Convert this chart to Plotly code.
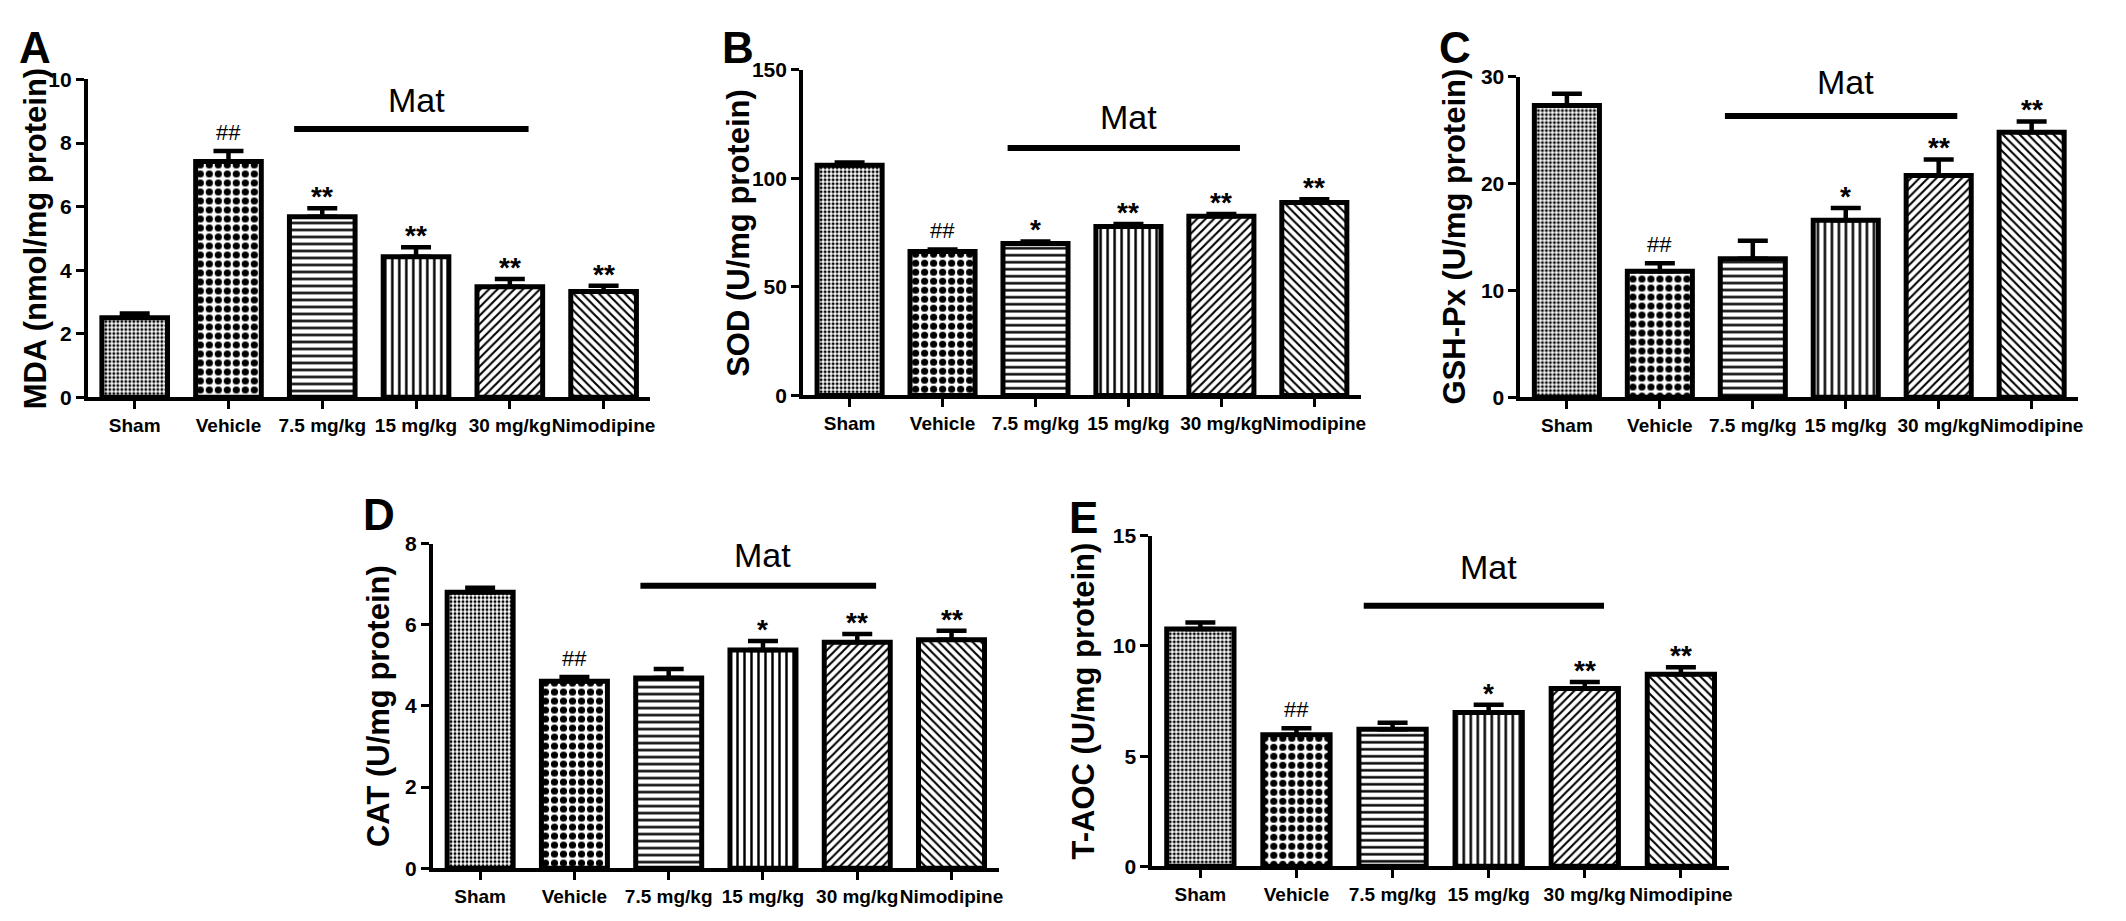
import plotly.graph_objects as go

# groups on the x axis (same for every panel)
groups = ["Sham", "Vehicle", "7.5 mg/kg", "15 mg/kg", "30 mg/kg", "Nimodipine"]
x_pos = [0, 1, 2, 3, 4, 5]

# A - MDA
mda = [2.5, 7.42, 5.68, 4.42, 3.48, 3.33]
mda_err = [0.14, 0.33, 0.27, 0.30, 0.24, 0.18]
mda_marks = ["", "##", "**", "**", "**", "**"]

# B - SOD
sod = [106.0, 66.3, 70.0, 77.8, 82.5, 88.8]
sod_err = [1.3, 0.9, 0.9, 1.2, 1.0, 1.5]
sod_marks = ["", "##", "*", "**", "**", "**"]

# C - GSH-Px
gsh = [27.3, 11.8, 12.95, 16.55, 20.75, 24.8]
gsh_err = [1.1, 0.75, 1.7, 1.15, 1.5, 1.0]
gsh_marks = ["", "##", "", "*", "**", "**"]

# D - CAT
cat = [6.8, 4.61, 4.69, 5.38, 5.57, 5.63]
cat_err = [0.11, 0.10, 0.22, 0.22, 0.20, 0.22]
cat_marks = ["", "##", "", "*", "**", "**"]

# E - T-AOC
taoc = [10.77, 5.97, 6.22, 6.98, 8.07, 8.72]
taoc_err = [0.30, 0.30, 0.30, 0.35, 0.29, 0.31]
taoc_marks = ["", "##", "", "*", "**", "**"]

# "Mat" bracket: span in category units, line height and label height per panel
mat_span = [1.7, 4.2]
mat_line_y = [8.44, 114, 26.3, 6.96, 11.83]
mat_text_y = [9.36, 128, 29.5, 7.72, 13.57]

W, H = 2126, 921
FONT = "Liberation Sans, Arial, sans-serif"

# pattern for each group
shapes = [".", ".", "-", "|", "/", "\\"]
psizes = [4, 9, 7, 7, 6, 6]
psolid = [0.45, 0.5, 0.35, 0.35, 0.35, 0.35]


def px(x):
    return x / W


def py(y):
    return 1 - y / H


panels = [
    # letter, y title, values, errors, marks, ymax, dtick, x pixels, y pixels, title/letter x, letter y
    ("A", "MDA (nmol/mg protein)", mda, mda_err, mda_marks, 10, 2, (80, 644), (387, 61), 27, 28),
    ("B", "SOD (U/mg protein)", sod, sod_err, sod_marks, 150, 50, (797, 1356), (385, 51), 732, 28),
    ("C", "GSH-Px (U/mg protein)", gsh, gsh_err, gsh_marks, 30, 10, (1516, 2075), (387, 58), 1450, 28),
    ("D", "CAT (U/mg protein)", cat, cat_err, cat_marks, 8, 2, (426, 993), (870, 537), 372, 507),
    ("E", "T-AOC (U/mg protein)", taoc, taoc_err, taoc_marks, 15, 5, (1147, 1725), (868, 529), 1078, 510),
]

fig = go.Figure()
annotations = []

for i, (letter, ytitle, vals, errs, marks, ymax, dtick, xpx, ypx, tx, ly) in enumerate(panels):
    n = "" if i == 0 else str(i + 1)
    xa, ya = "x" + n, "y" + n

    fig.add_trace(go.Bar(
        x=x_pos, y=vals, width=0.7,
        xaxis=xa, yaxis=ya,
        marker=dict(
            color="white",
            line=dict(color="black", width=5),
            pattern=dict(shape=shapes, size=psizes, solidity=psolid,
                         fgcolor="black", bgcolor="white", fillmode="replace"),
        ),
        error_y=dict(type="data", array=errs, arrayminus=[0] * 6, symmetric=False,
                     color="black", thickness=4.5, width=15),
        showlegend=False,
    ))

    # Mat bracket
    fig.add_trace(go.Scatter(
        x=mat_span, y=[mat_line_y[i]] * 2, mode="lines",
        line=dict(color="black", width=6),
        xaxis=xa, yaxis=ya, showlegend=False, hoverinfo="skip",
    ))
    annotations.append(dict(
        x=sum(mat_span) / 2 + 0.05, y=mat_text_y[i], xref=xa, yref=ya, text="Mat",
        showarrow=False, yanchor="middle",
        font=dict(family=FONT, size=34, color="black"),
    ))

    # significance marks
    for xi, v, e, m in zip(x_pos, vals, errs, marks):
        if m.startswith("#"):
            annotations.append(dict(
                x=xi, y=v + e, xref=xa, yref=ya, text=m, showarrow=False,
                yanchor="bottom", yshift=4,
                font=dict(family=FONT, size=22, color="black"),
            ))
        elif m:
            annotations.append(dict(
                x=xi, y=v + e, xref=xa, yref=ya, text=m, showarrow=False,
                yanchor="bottom", yshift=-6,
                font=dict(family=FONT, size=28, color="black", weight="bold"),
            ))

    # panel letter and y title
    annotations.append(dict(
        x=px(tx), y=py(ly), xref="paper", yref="paper", text=letter, showarrow=False,
        xanchor="center", yanchor="middle",
        font=dict(family=FONT, size=44, color="black", weight="bold"),
    ))
    annotations.append(dict(
        x=px(tx), y=(py(ypx[0]) + py(ypx[1])) / 2, xref="paper", yref="paper",
        text=ytitle, textangle=-90, showarrow=False,
        xanchor="center", yanchor="middle",
        font=dict(family=FONT, size=31, color="black", weight="bold"),
    ))

    axis_common = dict(
        showline=True, linewidth=4, linecolor="black", mirror=False,
        ticks="outside", ticklen=8, tickwidth=3, tickcolor="black",
        showgrid=False, zeroline=False,
    )
    fig.layout["xaxis" + n] = dict(
        domain=[px(xpx[0]), px(xpx[1])], anchor=ya, range=[-0.5, 5.5],
        tickvals=x_pos, ticktext=groups, tickangle=0,
        tickfont=dict(family=FONT, size=19, color="black", weight="bold"),
        **axis_common,
    )
    fig.layout["yaxis" + n] = dict(
        domain=[py(ypx[0]), py(ypx[1])], anchor=xa, range=[0, ymax], dtick=dtick,
        tickfont=dict(family=FONT, size=21, color="black", weight="bold"),
        **axis_common,
    )

fig.update_layout(
    width=W, height=H,
    margin=dict(l=0, r=0, t=0, b=0),
    paper_bgcolor="white", plot_bgcolor="white",
    annotations=annotations,
)

fig.write_html("out.html")
